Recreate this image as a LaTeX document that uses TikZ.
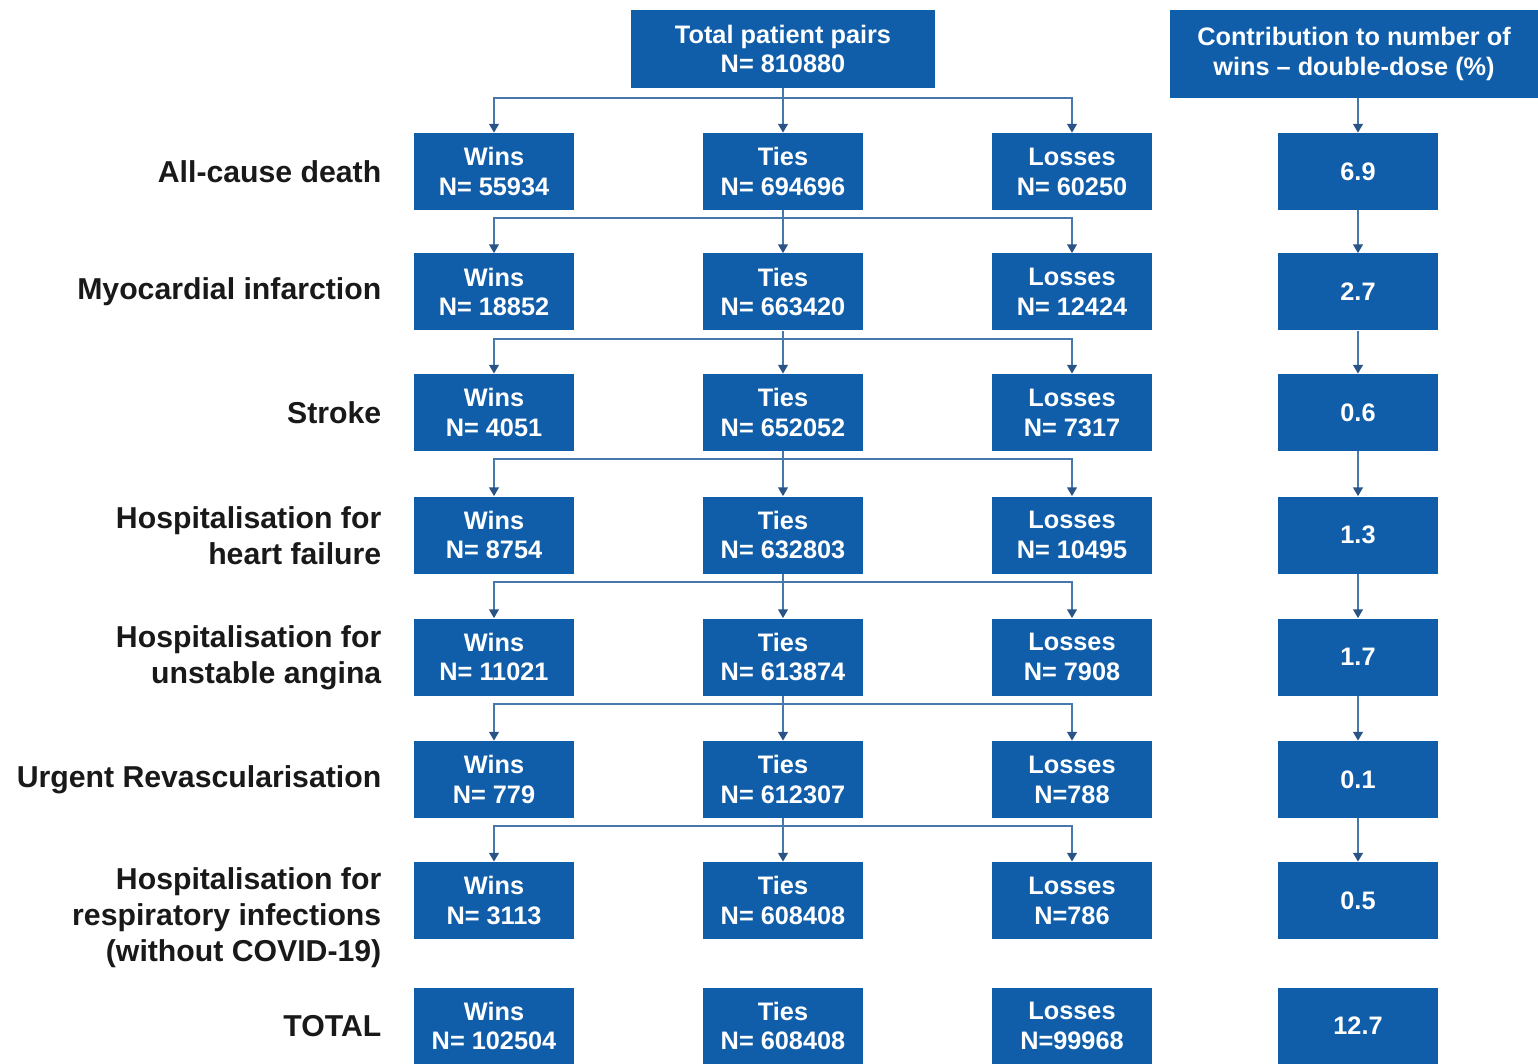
\documentclass[tikz,border=0pt]{standalone}
\usepackage{fontspec}
\setmainfont{Liberation Sans}
\usepackage{xcolor}
\usetikzlibrary{arrows.meta, positioning, calc}

\definecolor{boxblue}{RGB}{16,94,170}
\definecolor{lineblue}{RGB}{70,120,172}
\definecolor{tipblue}{RGB}{42,84,134}

\tikzset{
  cell/.style={fill=boxblue, text=white, minimum width=3.2cm, minimum height=1.54cm,
    inner sep=0pt, align=center, font=\fontsize{14.4}{17}\selectfont\bfseries},
  rowlabel/.style={anchor=east, align=right, text=black!90,
    font=\fontsize{17.2}{20.5}\selectfont\bfseries},
  link/.style={draw=lineblue, line width=1.1pt,
    -{Triangle[length=5pt, width=5.5pt, color=tipblue]}},
}

\begin{document}
\begin{tikzpicture}
\useasboundingbox (0,0) rectangle (30.76,-21.28);

% Header boxes
\node[cell, minimum width=6.08cm, minimum height=1.56cm] (top) at (15.66,-0.98) {Total patient pairs\\N= 810880};
\node[cell, minimum width=7.36cm, minimum height=1.76cm] (c0) at (27.08,-1.08) {Contribution to number of\\wins -- double-dose (\%)};

% Outcome rows
\foreach \i/\y/\ly/\lab/\w/\t/\l/\c in {
    1/-3.43/-3.43/{All-cause death}/{N= 55934}/{N= 694696}/{N= 60250}/6.9,
    2/-5.84/-5.84/{Myocardial infarction}/{N= 18852}/{N= 663420}/{N= 12424}/2.7,
    3/-8.25/-8.25/{Stroke}/{N= 4051}/{N= 652052}/{N= 7317}/0.6,
    4/-10.70/-10.72/{Hospitalisation for\\heart failure}/{N= 8754}/{N= 632803}/{N= 10495}/1.3,
    5/-13.14/-13.16/{Hospitalisation for\\unstable angina}/{N= 11021}/{N= 613874}/{N= 7908}/1.7,
    6/-15.59/-15.59/{Urgent Revascularisation}/{N= 779}/{N= 612307}/{N=788}/0.1,
    7/-18.01/-18.36/{Hospitalisation for\\respiratory infections\\(without COVID-19)}/{N= 3113}/{N= 608408}/{N=786}/0.5,
    8/-20.52/-20.52/{TOTAL}/{N= 102504}/{N= 608408}/{N=99968}/12.7} {
    \node[rowlabel] (r\i) at (7.75,\ly) {\lab};
    \node[cell] (w\i) at (9.88,\y) {Wins\\\w};
    \node[cell] (t\i) at (15.66,\y) {Ties\\\t};
    \node[cell] (l\i) at (21.44,\y) {Losses\\\l};
    \node[cell] (c\i) at (27.16,\y) {\c};
}

% Split from the total
\draw[link] (top.south) -- (t1.north);
\draw[link] (top.south) -- ++(0,-0.2) -| (w1.north);
\draw[link] (top.south) -- ++(0,-0.2) -| (l1.north);

% Ties carried down to the next outcome
\foreach \i [evaluate=\i as \j using int(\i+1)] in {1,...,6} {
    \draw[link] (t\i.south) -- (t\j.north);
    \draw[link] (t\i.south) -- ++(0,-0.16) -| (w\j.north);
    \draw[link] (t\i.south) -- ++(0,-0.16) -| (l\j.north);
}

% Contribution column
\draw[link] (c1.north |- c0.south) -- (c1.north);
\foreach \i [evaluate=\i as \j using int(\i+1)] in {1,...,6}
    \draw[link] (c\i.south) -- (c\j.north);
\end{tikzpicture}
\end{document}
